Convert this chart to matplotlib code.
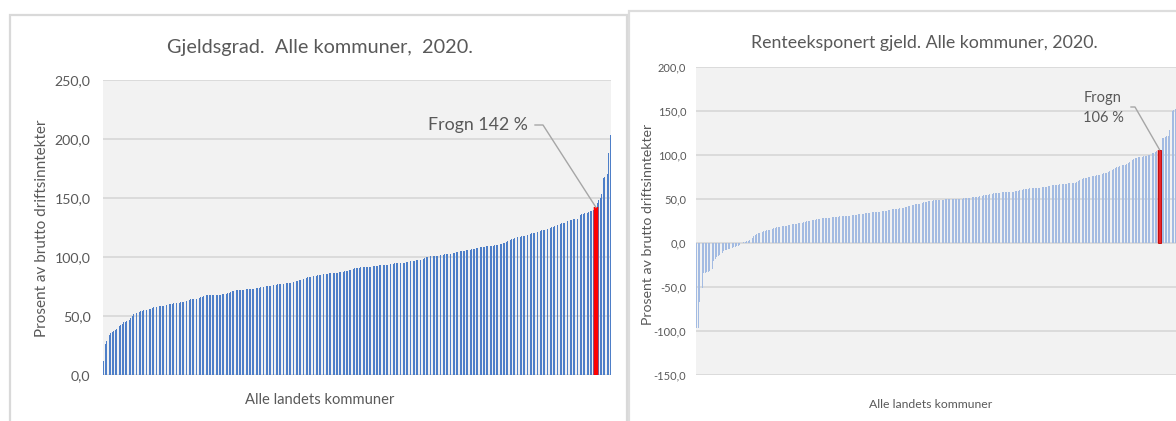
import matplotlib
matplotlib.use("Agg")
import matplotlib.pyplot as plt
from matplotlib.patches import Rectangle
from matplotlib.ticker import FuncFormatter

# ---------------- data (sorted ascending) ----------------
gjeldsgrad = [
    11.8, 26.0, 28.6, 30.5, 33.6, 35.2, 36.4, 37.0, 37.8, 38.9,
    39.8, 41.8, 42.5, 43.4, 44.5, 45.2, 46.0, 46.2, 46.5, 48.5,
    50.4, 51.5, 52.4, 52.9, 53.3, 53.7, 54.0, 54.4, 54.8, 55.2,
    55.4, 55.6, 55.8, 56.0, 56.6, 57.3, 58.0, 58.0, 58.1, 58.2,
    58.2, 58.3, 58.7, 59.1, 59.5, 59.8, 60.0, 60.3, 60.5, 60.6,
    60.8, 61.0, 61.1, 61.3, 61.6, 61.9, 62.2, 62.5, 62.9, 63.3,
    63.7, 64.0, 64.2, 64.4, 64.6, 64.8, 65.0, 65.5, 66.0, 66.5,
    67.0, 67.3, 67.4, 67.4, 67.5, 67.5, 67.6, 67.6, 67.7, 67.7,
    67.8, 68.0, 68.2, 68.4, 68.6, 68.8, 69.0, 69.2, 69.8, 70.4,
    71.0, 71.5, 71.6, 71.7, 71.8, 71.9, 72.0, 72.2, 72.3, 72.4,
    72.5, 72.6, 72.7, 72.8, 72.9, 73.1, 73.3, 73.5, 73.8, 74.0,
    74.3, 74.6, 74.8, 75.0, 75.2, 75.4, 75.6, 75.8, 76.0, 76.2,
    76.4, 76.5, 76.7, 76.9, 77.0, 77.2, 77.4, 77.6, 77.8, 77.9,
    78.1, 78.3, 78.6, 78.9, 79.2, 79.6, 80.0, 80.4, 80.8, 81.2,
    81.7, 82.1, 82.5, 82.8, 83.0, 83.3, 83.5, 83.8, 84.0, 84.3,
    84.5, 84.7, 84.9, 85.1, 85.3, 85.5, 85.8, 86.0, 86.1, 86.2,
    86.3, 86.4, 86.5, 86.6, 86.8, 87.0, 87.2, 87.4, 87.6, 87.8,
    88.0, 88.3, 88.8, 89.3, 89.8, 90.2, 90.5, 90.6, 90.8, 91.0,
    91.2, 91.3, 91.4, 91.5, 91.6, 91.7, 91.8, 91.9, 92.0, 92.2,
    92.3, 92.4, 92.6, 92.8, 92.9, 93.0, 93.2, 93.3, 93.4, 93.6,
    93.8, 94.0, 94.2, 94.4, 94.5, 94.6, 94.7, 94.8, 94.9, 95.0,
    95.0, 95.2, 95.4, 95.6, 95.9, 96.2, 96.5, 96.8, 97.0, 97.2,
    97.3, 97.5, 97.5, 98.0, 98.5, 99.2, 100.0, 100.3, 100.5, 100.6,
    100.7, 100.8, 101.0, 101.1, 101.2, 101.4, 101.6, 101.8, 102.0, 102.2,
    102.3, 102.4, 102.5, 102.7, 103.0, 103.3, 103.6, 103.9, 104.2, 104.5,
    104.8, 105.0, 105.2, 105.4, 105.6, 105.8, 106.0, 106.3, 106.6, 106.9,
    107.2, 107.5, 107.8, 108.0, 108.2, 108.4, 108.6, 108.8, 109.0, 109.1,
    109.2, 109.3, 109.4, 109.6, 109.8, 110.1, 110.4, 110.7, 111.0, 111.3,
    111.6, 112.2, 112.8, 113.4, 114.0, 114.6, 115.1, 115.6, 116.0, 116.4,
    116.7, 117.0, 117.3, 117.6, 117.9, 118.2, 118.5, 118.8, 119.2, 119.6,
    120.0, 120.3, 120.6, 121.0, 121.4, 121.8, 122.2, 122.6, 123.0, 123.3,
    123.6, 124.0, 124.4, 124.8, 125.2, 125.6, 126.0, 126.5, 127.0, 127.5,
    128.0, 128.4, 128.8, 129.2, 129.7, 130.2, 130.6, 131.0, 131.4, 131.8,
    132.0, 132.2, 132.5, 133.5, 135.7, 136.2, 136.6, 137.0, 137.3, 137.6,
    138.2, 138.8, 139.4, 140.0, 141.0, 142.0,
    146.0, 148.0, 150.0, 153.0, 167.0, 168.0, 169.0, 170.0, 188.0, 203.0,
]
frogn_gjeld_idx = 345
frogn_gjeld_label = "Frogn 142 %"

renteeksponert = [
    -96.6, -96.6, -67.4, -56.8, -51.0, -34.0, -33.8, -33.3, -32.8, -32.0,
    -31.0, -30.0, -20.8, -18.0, -15.9, -14.5, -13.3, -12.0, -10.8, -9.5,
    -8.5, -7.6, -7.2, -6.8, -6.2, -5.7, -5.0, -4.4, -3.8, -3.0,
    -2.2, -1.5, -0.5, 0.8, 1.4, 1.9, 2.5, 3.2, 3.8, 5.7,
    8.0, 9.5, 10.2, 10.8, 11.4, 12.0, 12.7, 13.3, 13.8, 14.3,
    14.8, 15.2, 15.8, 16.4, 17.0, 17.4, 17.8, 18.2, 18.6, 19.0,
    19.2, 19.4, 19.5, 19.7, 20.0, 20.4, 20.8, 21.2, 21.6, 21.9,
    22.1, 22.3, 22.5, 22.7, 23.1, 23.6, 24.0, 24.5, 25.0, 25.4,
    25.8, 26.1, 26.4, 26.7, 27.0, 27.2, 27.5, 27.7, 27.9, 28.1,
    28.3, 28.5, 28.7, 28.9, 29.2, 29.4, 29.6, 29.8, 30.0, 30.1,
    30.2, 30.3, 30.5, 30.6, 30.8, 30.9, 31.1, 31.2, 31.4, 31.6,
    31.8, 32.1, 32.3, 32.6, 32.8, 33.0, 33.3, 33.5, 33.8, 34.0,
    34.3, 34.5, 34.8, 35.0, 35.1, 35.2, 35.3, 35.4, 35.6, 35.8,
    36.0, 36.3, 36.6, 36.9, 37.2, 37.5, 37.8, 38.1, 38.4, 38.7,
    39.0, 39.2, 39.3, 39.4, 39.5, 39.8, 40.5, 41.3, 42.0, 42.6,
    43.0, 43.3, 43.6, 43.8, 44.0, 44.3, 44.8, 45.3, 45.8, 46.2,
    46.6, 47.0, 47.3, 47.6, 47.9, 48.2, 48.4, 48.6, 48.8, 49.0,
    49.1, 49.2, 49.3, 49.4, 49.5, 49.6, 49.7, 49.8, 49.9, 50.0,
    50.0, 50.1, 50.1, 50.2, 50.3, 50.4, 50.5, 50.6, 50.8, 51.0,
    51.2, 51.4, 51.6, 51.8, 52.0, 52.2, 52.5, 52.8, 53.2, 53.6,
    53.9, 54.2, 54.5, 54.8, 55.1, 55.4, 55.7, 56.0, 56.3, 56.6,
    56.8, 57.0, 57.2, 57.4, 57.6, 57.8, 57.9, 58.0, 58.1, 58.2,
    58.3, 58.4, 58.5, 58.7, 59.0, 59.3, 59.8, 60.3, 60.7, 61.1,
    61.4, 61.6, 61.8, 62.0, 62.1, 62.2, 62.3, 62.4, 62.6, 62.8,
    63.0, 63.2, 63.4, 63.6, 63.9, 64.2, 64.5, 64.8, 65.1, 65.4,
    65.7, 66.0, 66.2, 66.4, 66.6, 66.8, 67.0, 67.2, 67.4, 67.6,
    67.8, 67.9, 68.0, 68.2, 68.4, 68.6, 69.0, 70.0, 71.2, 72.2,
    72.8, 73.4, 73.9, 74.4, 74.7, 75.0, 75.4, 75.8, 76.2, 76.6,
    77.0, 77.4, 77.8, 78.2, 78.6, 79.0, 79.2, 79.6, 80.5, 81.5,
    82.3, 83.0, 84.0, 85.2, 86.2, 86.8, 87.2, 87.8, 88.3, 88.7,
    89.0, 89.5, 90.5, 92.0, 93.0, 94.3, 95.5, 96.5, 97.0, 97.4,
    97.6, 97.9, 98.2, 98.5, 98.9, 99.3, 99.8, 100.4, 101.0, 101.9,
    102.6, 103.3, 104.0, 105.0, 106.0,
    108.0, 119.0, 119.5, 120.5, 121.5, 122.0, 128.0, 150.0, 150.5, 151.0, 152.0,
]
frogn_rente_idx = 324
frogn_rente_label = "Frogn\n106 %"

title_left = "Gjeldsgrad.  Alle kommuner,  2020."
title_right = "Renteeksponert gjeld. Alle kommuner, 2020."
ylabel = "Prosent av brutto driftsinntekter"
xlabel = "Alle landets kommuner"
yticks_left = [0, 50, 100, 150, 200, 250]
yticks_right = [-150, -100, -50, 0, 50, 100, 150, 200]

# ---------------- style ----------------
FONT = "Lato"
TXT = "#595959"
GRID = "#D9D9D9"
PLOTBG = "#F2F2F2"
W, H = 1176, 421

fig = plt.figure(figsize=(W / 100, H / 100), dpi=100)
fig.patch.set_facecolor("white")


def rect(x0, y0, x1, y1):
    return [x0 / W, 1 - y1 / H, (x1 - x0) / W, (y1 - y0) / H]


def fx(x):
    return x / W


def fy(y):
    return 1 - y / H


fmt = FuncFormatter(lambda v, p: f"{v:.1f}".replace(".", ","))

# panel borders
fig.add_artist(Rectangle((fx(10), fy(440)), (627 - 10) / W, (440 - 15) / H,
                         transform=fig.transFigure, fill=False, ec="#D9D9D9", lw=1.6))
fig.add_artist(Rectangle((fx(628.5), fy(440)), (1200 - 628.5) / W, (440 - 11) / H,
                         transform=fig.transFigure, fill=False, ec="#DDDDDD", lw=1.6))


def style_axes(ax, ticks, fs, pad):
    ax.set_facecolor(PLOTBG)
    for s in ax.spines.values():
        s.set_visible(False)
    ax.set_yticks(ticks)
    ax.yaxis.set_major_formatter(fmt)
    ax.set_xticks([])
    ax.tick_params(axis="y", length=0, pad=pad, labelsize=fs, labelcolor=TXT)
    for lab in ax.get_yticklabels():
        lab.set_fontfamily(FONT)
    ax.yaxis.grid(True, color=GRID, lw=1.3)
    ax.set_axisbelow(True)


def leader(ax, text_xy_axes, elbow_dx_px, target):
    tdisp = ax.transAxes.transform(text_xy_axes)
    edisp = (tdisp[0] + elbow_dx_px, tdisp[1])
    inv = ax.transData.inverted()
    p0 = inv.transform(tdisp)
    p1 = inv.transform(edisp)
    ax.plot([p0[0], p1[0], target[0]], [p0[1], p1[1], target[1]],
            color="#A6A6A6", lw=1.0, clip_on=False, zorder=5)


# ---------------- left chart ----------------
axL = fig.add_axes(rect(103, 80, 611, 375))
nL = len(gjeldsgrad)
xL = list(range(nL))
axL.bar(xL, gjeldsgrad, width=0.55, color="#4E7FC8", linewidth=0, zorder=2)
axL.bar(frogn_gjeld_idx, gjeldsgrad[frogn_gjeld_idx], width=3.6, color="#FF0000",
        alpha=0.3, linewidth=0, zorder=3)
axL.bar(frogn_gjeld_idx, gjeldsgrad[frogn_gjeld_idx], width=2.2, color="#FF0000",
        linewidth=0, zorder=4)
axL.set_xlim(-0.5, nL - 0.5)
axL.set_ylim(0, 250)
style_axes(axL, yticks_left, 10.2, 9)

tpos = ((528 - 103) / 508, (375 - 125) / 295)
axL.text(tpos[0], tpos[1], frogn_gjeld_label, transform=axL.transAxes,
         ha="right", va="center", fontsize=12.8, color=TXT, family=FONT)
leader(axL, ((535 - 103) / 508, tpos[1]), 8,
       (frogn_gjeld_idx, gjeldsgrad[frogn_gjeld_idx]))

fig.text(fx(320), fy(47), title_left, ha="center", va="center",
         fontsize=14.3, color=TXT, family=FONT)
fig.text(fx(42), fy(228), ylabel, rotation=90, ha="center", va="center",
         fontsize=11, color=TXT, family=FONT)
fig.text(fx(320), fy(400), xlabel, ha="center", va="center",
         fontsize=10.6, color=TXT, family=FONT)

# ---------------- right chart ----------------
axR = fig.add_axes(rect(696, 67, 1176, 375))
nR = len(renteeksponert)
xR = list(range(nR))
axR.bar(xR, renteeksponert, width=0.6, color="#A3BBE2", linewidth=0, zorder=2)
axR.bar(frogn_rente_idx, renteeksponert[frogn_rente_idx], width=3.4, color="#FF0000",
        alpha=0.25, linewidth=0, zorder=3)
axR.bar(frogn_rente_idx, renteeksponert[frogn_rente_idx], width=2.4, color="#E8262A",
        edgecolor="#C00000", linewidth=0.6, zorder=4)
axR.set_xlim(-0.5, nR - 0.5)
axR.set_ylim(-150, 200)
style_axes(axR, yticks_right, 8, 7)

axR.text((1103 - 696) / 480, (375 - 108) / 308, frogn_rente_label,
         transform=axR.transAxes, ha="center", va="center", fontsize=10.5,
         color=TXT, family=FONT, linespacing=1.5)
leader(axR, ((1131 - 696) / 480, (375 - 107) / 308), 4,
       (frogn_rente_idx, renteeksponert[frogn_rente_idx]))

fig.text(fx(924), fy(43), title_right, ha="center", va="center",
         fontsize=12.8, color=TXT, family=FONT)
fig.text(fx(648), fy(224), ylabel, rotation=90, ha="center", va="center",
         fontsize=10.2, color=TXT, family=FONT)
fig.text(fx(931), fy(404), xlabel, ha="center", va="center",
         fontsize=8.8, color=TXT, family=FONT)

fig.savefig("out.png", dpi=100, facecolor="white")
